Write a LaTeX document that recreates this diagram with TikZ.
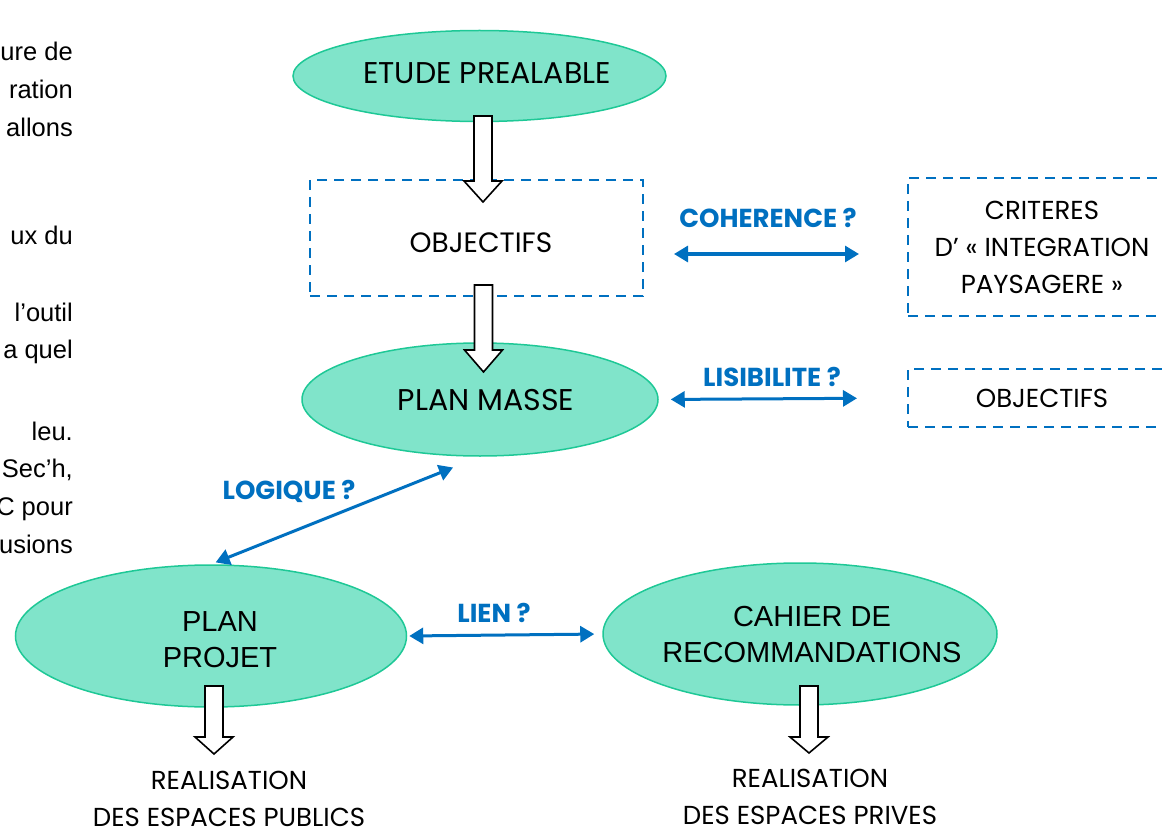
\documentclass[tikz,border=0pt]{standalone}
\usepackage{fontspec}
\setmainfont{Liberation Sans}
\newfontfamily\gothique{Poppins}
\usetikzlibrary{shapes.geometric,arrows.meta}

\definecolor{vertfond}{RGB}{128,228,202}
\definecolor{vertbord}{RGB}{30,200,150}
\definecolor{bleu}{RGB}{0,112,192}

\tikzset{
  bulle/.style={ellipse, draw=vertbord, fill=vertfond, line width=1.5pt, inner sep=0pt},
  cadre/.style={draw=bleu, dash pattern=on 10pt off 7pt, line width=2pt, inner sep=0pt},
  texte/.style={font=\gothique\fontsize{26}{37}\selectfont, align=center, inner sep=0pt},
  grand/.style={font=\gothique\fontsize{30}{37}\selectfont, inner sep=0pt},
  arial/.style={font=\fontsize{29}{36}\selectfont, align=center, inner sep=0pt},
  question/.style={font=\gothique\bfseries\fontsize{26}{28}\selectfont, text=bleu, inner sep=0pt},
  lien/.style={{Triangle[length=14pt,width=16pt]}-{Triangle[length=14pt,width=16pt]},
    draw=bleu, line width=3pt},
  creuse/.style={draw=black, fill=white, line width=1.6pt, line join=miter},
  fragment/.style={font=\fontsize{25.5}{28}\selectfont, anchor=mid east, inner sep=0pt}
}

% fleche blanche : x, haut, debut de la pointe, pointe
\newcommand{\fleche}[4]{%
  \draw[creuse] (#1-9,#2) -- (#1+9,#2) -- (#1+9,#3) -- (#1+19,#3) -- (#1,#4)
    -- (#1-19,#3) -- (#1-9,#3) -- cycle;}

\begin{document}
\begin{tikzpicture}[x=1pt,y=-1pt]
 \useasboundingbox (0,0) rectangle (1162,829);
 \clip (0,0) rectangle (1162,829);
 % texte coupe a gauche
 \foreach \y/\t [count=\i] in {58/ure de,96/ration,134/allons,242/ux du,319/l’outil,
   356/a quel,438/leu.,475/{Sec’h,},513/C pour,551/usions}
   \node[fragment] (frag\i) at (73,\y) {\t};
 % bulles
 \node[bulle, minimum width=373pt, minimum height=91pt] (etude) at (479.5,76) {};
 \node[grand] (etudetxt) at (487,73) {ETUDE PREALABLE};
 \node[bulle, minimum width=356pt, minimum height=113pt] (masse) at (480,399.5) {};
 \node[grand] (massetxt) at (486,400) {PLAN MASSE};
 \node[bulle, minimum width=391pt, minimum height=142pt] (projet) at (211,636) {};
 \node[arial] (projettxt) at (220,640) {PLAN\\PROJET};
 \node[bulle, minimum width=394pt, minimum height=142pt] (cahier) at (800,634) {};
 \node[arial] (cahiertxt) at (812,635) {CAHIER DE\\RECOMMANDATIONS};
 % cadres
 \node[cadre, minimum width=333pt, minimum height=116pt] (obj) at (476.5,238) {};
 \node[texte, font=\gothique\fontsize{28}{37}\selectfont] (objtxt) at (481,243) {OBJECTIFS};
 \node[cadre, texte, minimum width=268pt, minimum height=138pt] (crit) at (1042,247)
   {CRITERES\\D’ « INTEGRATION\\PAYSAGERE »};
 \node[cadre, texte, minimum width=268pt, minimum height=58pt] (obj2) at (1042,398) {OBJECTIFS};
 % liens
 \draw[lien, shorten <=30pt, shorten >=48pt] ([yshift=-16pt]obj.east) -- ([yshift=-7pt]crit.west);
 \draw[lien, shorten <=12pt, shorten >=50pt] (masse.east) -- (obj2.west);
 \draw[lien, shorten <=5pt, shorten >=29pt] (projet.north) -- (masse.south);
 \draw[lien, shorten <=2pt, shorten >=8pt] (projet.east) -- (cahier.west);
 \node[question] (qcoh) at (768,218) {COHERENCE ?};
 \node[question] (qlis) at (772,377) {LISIBILITE ?};
 \node[question] (qlog) at (289,491) {LOGIQUE ?};
 \node[question] (qlien) at (494,613) {LIEN ?};
 % realisations
 \node[texte] (pub) at (229,799) {REALISATION\\DES ESPACES PUBLICS};
 \node[texte] (priv) at (810,797) {REALISATION\\DES ESPACES PRIVES};
 % fleches blanches
 \fleche{483}{116}{181}{202}
 \fleche{483.5}{285}{350}{372}
 \fleche{214}{686}{737}{754}
 \fleche{809}{686}{737}{753}
\end{tikzpicture}
\end{document}
